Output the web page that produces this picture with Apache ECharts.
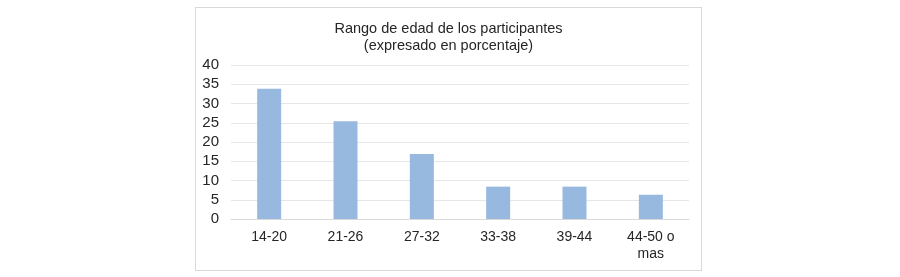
<!DOCTYPE html>
<html>
<head>
<meta charset="utf-8">
<script src="https://cdn.jsdelivr.net/npm/echarts@6/dist/echarts.min.js"></script>
<style>
  body { margin: 0; background: #fff; }
  #chart {
    position: absolute; left: 195px; top: 7px;
    width: 505px; height: 262px;
    border: 1px solid #d9d9d9;
  }
</style>
</head>
<body>
<div id="chart"></div>
<script>
const categories = ['14-20', '21-26', '27-32', '33-38', '39-44', '44-50 o\nmas'];
const values = [33.8, 25.4, 16.9, 8.4, 8.4, 6.3];
const yTicks = { min: 0, max: 40, interval: 5 };

const textColor = '#262626';
const font = 'Liberation Sans, Arial, sans-serif';

const myChart = echarts.init(document.getElementById('chart'));
myChart.setOption({
  animation: false,
  title: {
    text: 'Rango de edad de los participantes\n(expresado en porcentaje)',
    left: 'center',
    top: 7,
    textStyle: {
      fontFamily: font,
      fontSize: 14.5,
      fontWeight: 'normal',
      color: textColor,
      lineHeight: 17
    }
  },
  grid: { left: 35, right: 12, top: 57, bottom: 51 },
  xAxis: {
    type: 'category',
    data: categories,
    axisLine: { lineStyle: { color: '#d9d9d9' } },
    axisTick: { show: false },
    axisLabel: {
      color: textColor,
      fontFamily: font,
      fontSize: 14,
      lineHeight: 17,
      margin: 10,
      interval: 0
    }
  },
  yAxis: {
    type: 'value',
    min: yTicks.min,
    max: yTicks.max,
    interval: yTicks.interval,
    axisLine: { show: false },
    axisTick: { show: false },
    splitLine: { lineStyle: { color: '#e6e6e6' } },
    axisLabel: {
      color: textColor,
      fontFamily: font,
      fontSize: 15,
      margin: 12
    }
  },
  series: [{
    type: 'bar',
    data: values,
    barWidth: 24,
    itemStyle: { color: '#97b9e0' }
  }]
});
</script>
</body>
</html>
